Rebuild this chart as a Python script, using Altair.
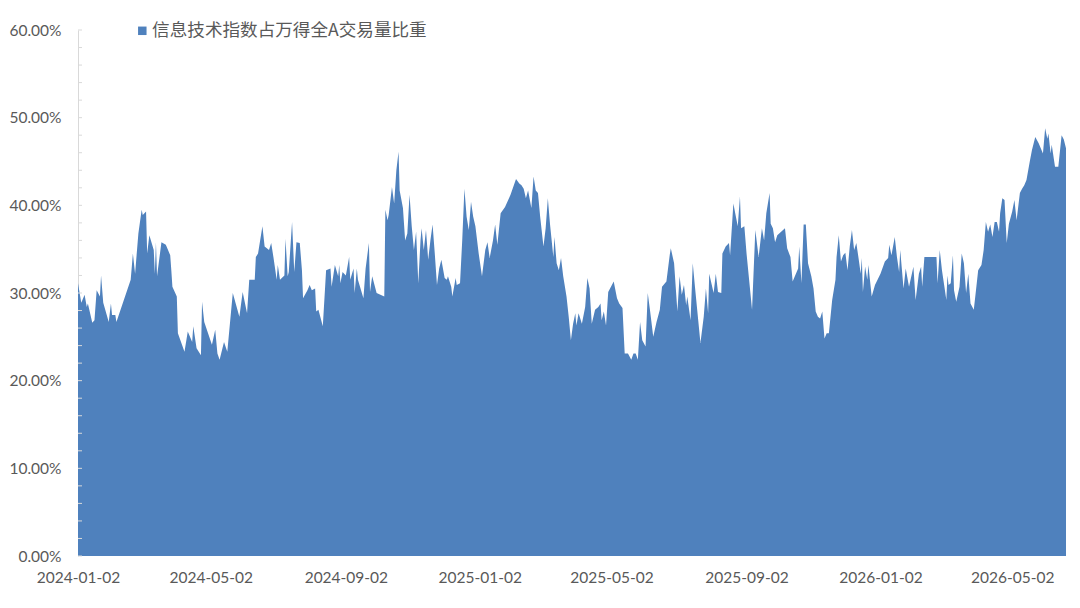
import altair as alt
import pandas as pd

dates = [
    "2024-01-02","2024-01-05","2024-01-08","2024-01-10","2024-01-11","2024-01-15","2024-01-17","2024-01-19",
    "2024-01-22","2024-01-23","2024-01-25","2024-01-30","2024-02-01","2024-02-02","2024-02-05","2024-02-06",
    "2024-02-19","2024-02-20","2024-02-21","2024-02-23","2024-02-26","2024-02-29","2024-03-01","2024-03-04",
    "2024-03-05","2024-03-07","2024-03-11","2024-03-12","2024-03-13","2024-03-14","2024-03-18","2024-03-22",
    "2024-03-26","2024-03-27","2024-03-28","2024-04-01","2024-04-02","2024-04-08","2024-04-11","2024-04-15",
    "2024-04-16","2024-04-19","2024-04-23","2024-04-24","2024-04-26","2024-05-03","2024-05-06","2024-05-08",
    "2024-05-10","2024-05-14","2024-05-17","2024-05-22","2024-05-28","2024-05-31","2024-06-04","2024-06-06",
    "2024-06-11","2024-06-12","2024-06-14","2024-06-18","2024-06-20","2024-06-24","2024-06-26","2024-06-28",
    "2024-07-01","2024-07-02","2024-07-04","2024-07-08","2024-07-09","2024-07-11","2024-07-12","2024-07-15",
    "2024-07-17","2024-07-19","2024-07-22","2024-07-24","2024-07-25","2024-07-29","2024-07-31","2024-08-02",
    "2024-08-05","2024-08-06","2024-08-08","2024-08-12","2024-08-15","2024-08-19","2024-08-20","2024-08-23",
    "2024-08-26","2024-08-27","2024-08-28","2024-08-30","2024-09-02","2024-09-05","2024-09-06","2024-09-09",
    "2024-09-10","2024-09-12","2024-09-13","2024-09-18","2024-09-20","2024-09-23","2024-09-24","2024-09-26",
    "2024-09-30","2024-10-07","2024-10-08","2024-10-10","2024-10-11","2024-10-14","2024-10-16","2024-10-18",
    "2024-10-20","2024-10-21","2024-10-24","2024-10-26","2024-10-28","2024-10-30","2024-11-01","2024-11-03",
    "2024-11-05","2024-11-07","2024-11-09","2024-11-10","2024-11-12","2024-11-14","2024-11-16","2024-11-18",
    "2024-11-20","2024-11-22","2024-11-24","2024-11-26","2024-11-28","2024-12-01","2024-12-03","2024-12-04",
    "2024-12-07","2024-12-08","2024-12-11","2024-12-12","2024-12-15","2024-12-17","2024-12-19","2024-12-21",
    "2024-12-23","2024-12-25","2024-12-27","2024-12-29","2025-01-01","2025-01-04","2025-01-07","2025-01-09",
    "2025-01-11","2025-01-14","2025-01-16","2025-01-18","2025-01-21","2025-01-25","2025-01-30","2025-02-04",
    "2025-02-07","2025-02-09","2025-02-11","2025-02-13","2025-02-15","2025-02-18","2025-02-20","2025-02-22",
    "2025-02-24","2025-02-26","2025-03-01","2025-03-03","2025-03-05","2025-03-07","2025-03-10","2025-03-11",
    "2025-03-13","2025-03-15","2025-03-17","2025-03-19","2025-03-22","2025-03-24","2025-03-26","2025-03-28",
    "2025-03-30","2025-03-31","2025-04-02","2025-04-05","2025-04-08","2025-04-10","2025-04-12","2025-04-14",
    "2025-04-17","2025-04-20","2025-04-22","2025-04-23","2025-04-25","2025-04-27","2025-04-29","2025-05-04",
    "2025-05-07","2025-05-09","2025-05-12","2025-05-14","2025-05-17","2025-05-20","2025-05-22","2025-05-24",
    "2025-05-26","2025-05-28","2025-05-30","2025-06-02","2025-06-04","2025-06-06","2025-06-09","2025-06-12",
    "2025-06-15","2025-06-17","2025-06-21","2025-06-24","2025-06-25","2025-06-28","2025-07-01","2025-07-03",
    "2025-07-05","2025-07-07","2025-07-09","2025-07-10","2025-07-13","2025-07-15","2025-07-17","2025-07-22",
    "2025-07-25","2025-07-27","2025-07-29","2025-07-30","2025-08-03","2025-08-05","2025-08-07","2025-08-10",
    "2025-08-11","2025-08-14","2025-08-17","2025-08-18","2025-08-21","2025-08-23","2025-08-25","2025-08-27",
    "2025-08-28","2025-08-31","2025-09-02","2025-09-07","2025-09-10","2025-09-13","2025-09-16","2025-09-18",
    "2025-09-20","2025-09-23","2025-09-24","2025-09-26","2025-09-28","2025-09-30","2025-10-07","2025-10-09",
    "2025-10-12","2025-10-14","2025-10-16","2025-10-19","2025-10-20","2025-10-22","2025-10-24","2025-10-26",
    "2025-10-28","2025-10-31","2025-11-02","2025-11-04","2025-11-06","2025-11-08","2025-11-10","2025-11-12",
    "2025-11-14","2025-11-16","2025-11-19","2025-11-22","2025-11-23","2025-11-25","2025-11-27","2025-11-29",
    "2025-12-01","2025-12-03","2025-12-05","2025-12-07","2025-12-09","2025-12-11","2025-12-13","2025-12-15",
    "2025-12-16","2025-12-17","2025-12-19","2025-12-21","2025-12-22","2025-12-25","2025-12-28","2026-01-02",
    "2026-01-06","2026-01-09","2026-01-10","2026-01-12","2026-01-15","2026-01-17","2026-01-19","2026-01-20",
    "2026-01-23","2026-01-25","2026-01-28","2026-02-01","2026-02-03","2026-02-06","2026-02-08","2026-02-09",
    "2026-02-11","2026-02-22","2026-02-23","2026-02-25","2026-02-27","2026-03-01","2026-03-03","2026-03-04",
    "2026-03-05","2026-03-07","2026-03-09","2026-03-10","2026-03-12","2026-03-15","2026-03-17","2026-03-19",
    "2026-03-21","2026-03-23","2026-03-25","2026-03-28","2026-03-30","2026-04-01","2026-04-04","2026-04-06",
    "2026-04-08","2026-04-10","2026-04-12","2026-04-14","2026-04-16","2026-04-18","2026-04-20","2026-04-21",
    "2026-04-23","2026-04-25","2026-04-27","2026-04-29","2026-05-02","2026-05-04","2026-05-06","2026-05-09",
    "2026-05-11","2026-05-13","2026-05-15","2026-05-18","2026-05-20","2026-05-23","2026-05-26","2026-05-30",
    "2026-06-01","2026-06-03","2026-06-04","2026-06-06","2026-06-07","2026-06-10","2026-06-13","2026-06-16",
    "2026-06-18","2026-06-20",
]

share_pct = [
    31.1,28.9,29.8,28.4,28.8,26.6,26.9,30.3,
    29.6,32.0,28.9,26.7,28.8,27.5,27.5,26.7,
    31.5,33.0,34.5,32.2,36.8,39.5,38.9,39.3,
    34.5,36.6,34.9,32.2,35.8,31.9,35.8,35.5,
    34.3,32.6,30.7,29.6,25.4,23.3,25.6,24.4,
    26.2,23.7,22.9,29.0,26.7,24.1,25.8,23.1,
    22.4,24.4,23.3,30.0,27.3,30.1,27.7,31.5,
    31.5,34.1,34.5,37.6,35.3,34.9,35.7,34.1,
    31.5,33.2,31.5,32.0,36.2,31.9,32.4,38.1,
    32.4,35.8,35.7,32.6,29.4,30.3,30.9,30.3,
    30.5,27.9,28.1,26.2,32.6,32.8,30.7,33.2,
    31.9,33.2,31.1,32.4,32.0,34.1,31.5,32.8,
    30.0,32.8,31.5,29.4,32.8,35.7,30.1,31.9,
    30.0,29.6,39.5,38.3,38.9,42.1,40.2,44.0,
    46.1,41.7,39.7,36.0,36.8,41.2,37.6,34.9,
    37.0,31.1,36.0,37.4,34.9,37.2,33.8,36.0,
    37.8,34.5,30.9,32.8,33.8,31.7,31.5,31.9,
    30.7,29.6,31.7,30.9,31.1,36.0,41.9,38.7,
    37.2,40.4,38.7,37.6,34.5,31.9,34.9,35.8,
    34.0,36.0,37.8,35.5,39.1,39.8,41.2,43.0,
    42.5,42.3,41.9,40.8,41.7,39.7,43.3,41.7,
    41.4,38.7,35.3,37.4,40.8,37.8,34.1,36.4,
    33.4,32.6,34.0,31.9,29.6,27.3,24.6,26.5,
    27.7,26.3,27.7,26.5,28.4,31.7,30.5,26.5,
    28.1,28.4,28.8,26.9,27.9,26.3,30.1,31.3,
    29.4,28.8,28.3,23.1,23.1,22.4,23.1,23.1,
    22.4,26.7,24.6,23.9,30.0,28.1,25.0,26.7,
    28.1,30.7,31.3,34.3,35.1,33.4,27.9,31.9,
    29.8,30.9,28.6,29.6,26.9,33.4,30.7,24.3,
    27.3,30.5,27.7,32.2,30.0,32.2,30.1,30.0,
    34.5,35.3,35.7,34.3,40.2,38.9,37.6,41.0,
    37.4,37.6,34.5,28.1,37.2,34.1,37.4,36.0,
    39.1,41.4,37.9,37.4,35.8,36.6,37.4,35.1,
    34.1,31.3,31.9,32.8,35.3,31.1,37.8,37.8,
    33.4,31.9,30.5,27.9,27.3,27.1,27.9,24.8,
    25.4,25.4,29.2,31.5,34.1,36.6,33.6,34.3,
    34.6,32.6,35.3,37.2,34.9,35.7,34.0,32.2,
    34.0,30.1,33.0,31.5,33.2,29.6,30.9,32.2,
    33.6,34.0,35.5,34.3,36.4,34.1,32.4,34.9,
    30.5,32.8,30.7,33.0,29.2,32.2,33.0,30.7,
    34.1,34.1,31.1,34.9,32.6,30.9,29.2,32.0,
    30.9,31.1,34.3,30.3,29.0,30.7,34.5,33.4,
    30.0,32.2,28.8,28.1,30.3,32.6,33.2,34.9,
    38.1,37.0,37.8,36.4,38.1,38.1,37.0,39.1,
    40.8,40.6,35.7,37.9,39.3,40.6,38.3,41.4,
    41.9,42.3,42.9,45.0,46.3,47.8,47.1,45.9,
    48.8,47.6,48.2,45.9,46.9,44.4,44.4,48.0,
    47.5,46.5,
]

series_name = "信息技术指数占万得全A交易量比重"
x_tick_dates = [(2024, 1, 2), (2024, 5, 2), (2024, 9, 2), (2025, 1, 2),
                (2025, 5, 2), (2025, 9, 2), (2026, 1, 2), (2026, 5, 2)]
y_tick_values = [0.0, 0.1, 0.2, 0.3, 0.4, 0.5, 0.6]
y_minor_ticks = [i / 50 for i in range(31)]

df = pd.DataFrame({
    "date": dates,
    "share": [v / 100 for v in share_pct],
    "series": [series_name] * len(dates),
})
ticks_df = pd.DataFrame({"share": y_minor_ticks})

def dt(y, m, d):
    return alt.DateTime(year=y, month=m, date=d, utc=True)

FILL = "#4F81BD"
LABEL = "#595959"

x_enc = alt.X(
    "date:T",
    scale=alt.Scale(type="utc", domain=[dt(2024, 1, 2), dt(2026, 6, 20)], nice=False),
    axis=alt.Axis(
        values=[dt(*d) for d in x_tick_dates],
        format="%Y-%m-%d",
        labelFont="Lato", labelFontSize=15.5, labelColor=LABEL,
        labelFlush=False, labelOverlap=False, labelPadding=14,
        ticks=False, tickSize=0, domain=False, grid=False, title=None,
    ),
)
y_scale = alt.Scale(domain=[0, 0.6], nice=False, zero=True)
y_axis = alt.Axis(
    values=y_tick_values, format=".2%",
    labelFont="Lato", labelFontSize=15.5, labelColor=LABEL,
    labelPadding=17, ticks=False, tickSize=0,
    domain=True, domainColor="#D9D9D9", domainWidth=1,
    grid=False, title=None,
)

area = alt.Chart(df).mark_area(interpolate="linear", opacity=1).encode(
    x=x_enc,
    y=alt.Y("share:Q", scale=y_scale, axis=y_axis),
    color=alt.Color(
        "series:N",
        scale=alt.Scale(domain=[series_name], range=[FILL]),
        legend=alt.Legend(
            orient="none", legendX=55.5, legendY=-8, title=None,
            symbolType="square", symbolSize=72, symbolStrokeWidth=0,
            symbolOpacity=1, labelFont="Noto Sans CJK SC", labelFontSize=17.6,
            labelColor=LABEL, labelOffset=1, padding=0, labelLimit=600,
        ),
    ),
)

minor = alt.Chart(ticks_df).mark_rule(color="#D9D9D9", strokeWidth=1).encode(
    y=alt.Y("share:Q", scale=y_scale, axis=y_axis),
    x=alt.value(0),
    x2=alt.value(4),
)

chart = alt.layer(area, minor).properties(
    width=988, height=526,
    padding={"left": 70, "top": 22, "right": 6, "bottom": 40},
    autosize=alt.AutoSizeParams(type="none"),
).configure(background="white").configure_view(stroke=None)

chart.save("out.html", embed_options={"renderer": "svg", "actions": False})
